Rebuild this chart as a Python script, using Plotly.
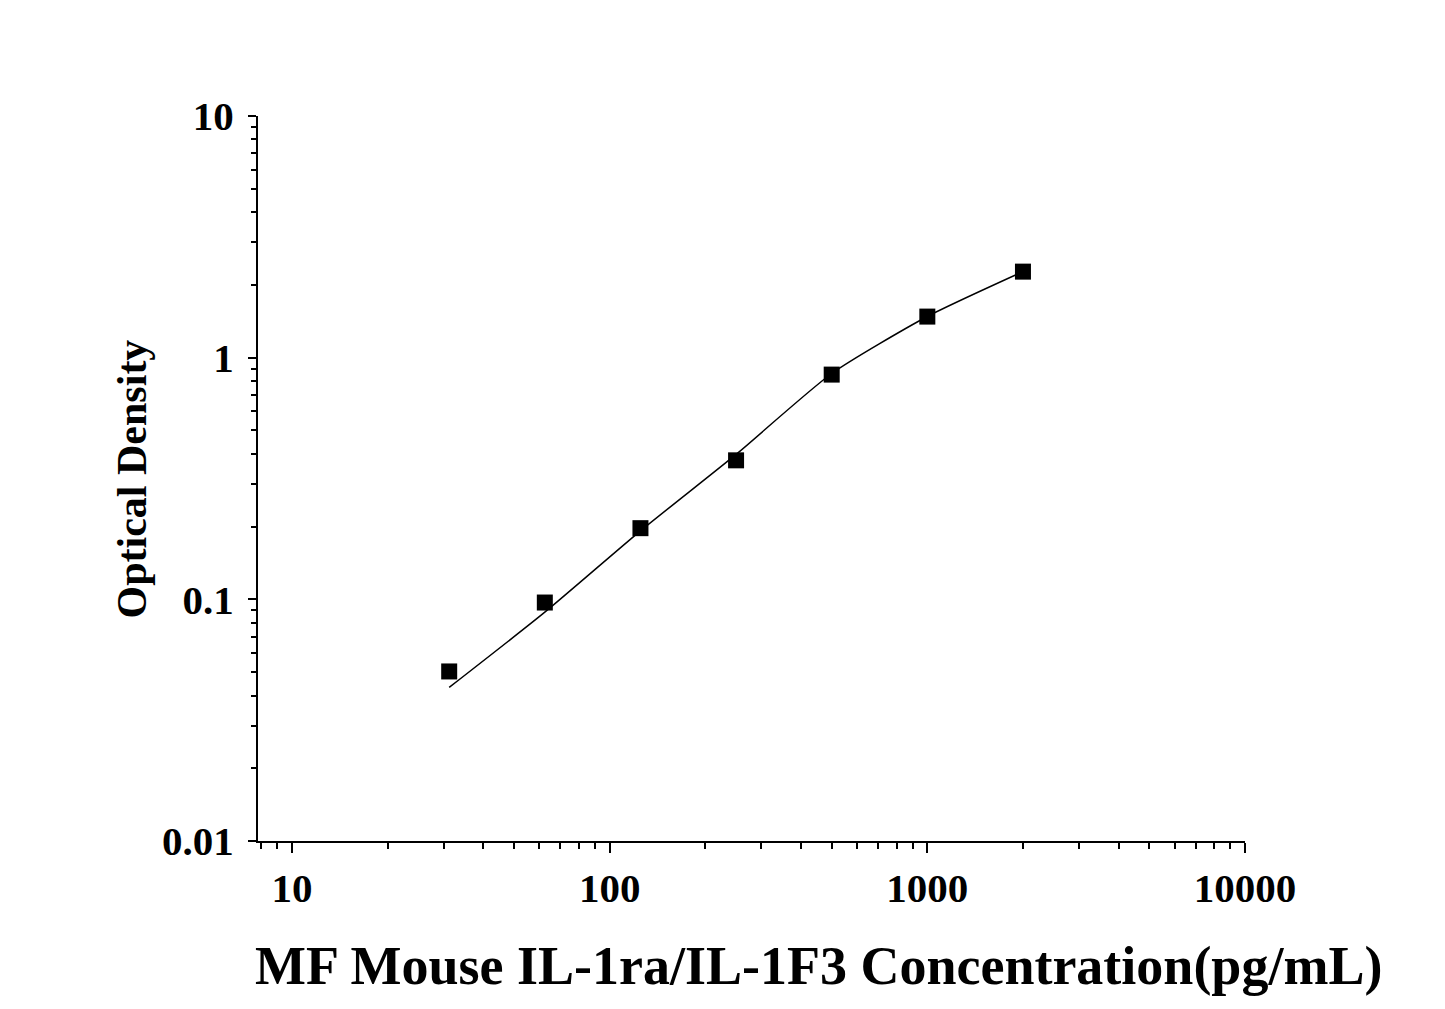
import plotly.graph_objects as go

# Standard concentrations (pg/mL) and measured optical density
conc = [31.25, 62.5, 125, 250, 500, 1000, 2000]
od = [0.0503, 0.097, 0.197, 0.376, 0.851, 1.479, 2.27]

# Fitted curve
curve_x = [31.25, 62.5, 125, 250, 500, 1000, 2000]
curve_y = [0.0432, 0.0885, 0.192, 0.398, 0.86, 1.48, 2.27]

x_tickvals = [10, 100, 1000, 10000]
x_ticktext = ["10", "100", "1000", "10000"]
y_tickvals = [0.01, 0.1, 1, 10]
y_ticktext = ["0.01", "0.1", "1", "10"]

font_family = "Liberation Serif"

fig = go.Figure()
fig.add_trace(go.Scatter(
    x=curve_x, y=curve_y, mode="lines",
    line=dict(color="black", width=1.5, shape="spline", smoothing=0.6),
    showlegend=False, hoverinfo="skip"))
fig.add_trace(go.Scatter(
    x=conc, y=od, mode="markers",
    marker=dict(symbol="square", size=16, color="black"),
    showlegend=False))

axis_common = dict(
    showline=True, linecolor="black", linewidth=2, mirror=False,
    showgrid=False, zeroline=False,
    ticks="outside", ticklen=10, tickwidth=2, tickcolor="black",
    tickfont=dict(family=font_family, size=41, color="black", weight="bold"),
)

fig.update_xaxes(type="log", range=[0.893, 4.0], tickvals=x_tickvals, ticktext=x_ticktext,
                 minor=dict(ticks="outside", ticklen=6, tickwidth=2, tickcolor="black", dtick="D1", showgrid=False),
                 **axis_common)
fig.update_yaxes(type="log", range=[-2, 1], tickvals=y_tickvals, ticktext=y_ticktext,
                 minor=dict(ticks="outside", ticklen=5, tickwidth=2, tickcolor="black", dtick="D1", showgrid=False),
                 **axis_common)
fig.update_yaxes(ticklen=8, ticklabelstandoff=6)

fig.add_annotation(text="MF Mouse IL-1ra/IL-1F3 Concentration(pg/mL)", xref="paper", yref="paper",
                   x=0.568, y=-0.172, xanchor="center", yanchor="middle", showarrow=False,
                   font=dict(family=font_family, size=54, color="black", weight="bold"))
fig.add_annotation(text="Optical Density", xref="paper", yref="paper",
                   x=-0.1277, y=0.5, xanchor="center", yanchor="middle", showarrow=False, textangle=-90,
                   font=dict(family=font_family, size=42, color="black", weight="bold"))

fig.update_layout(
    width=1445, height=1009,
    margin=dict(l=250, r=208, t=108, b=176),
    paper_bgcolor="white", plot_bgcolor="white",
)

fig.write_html("out.html")
